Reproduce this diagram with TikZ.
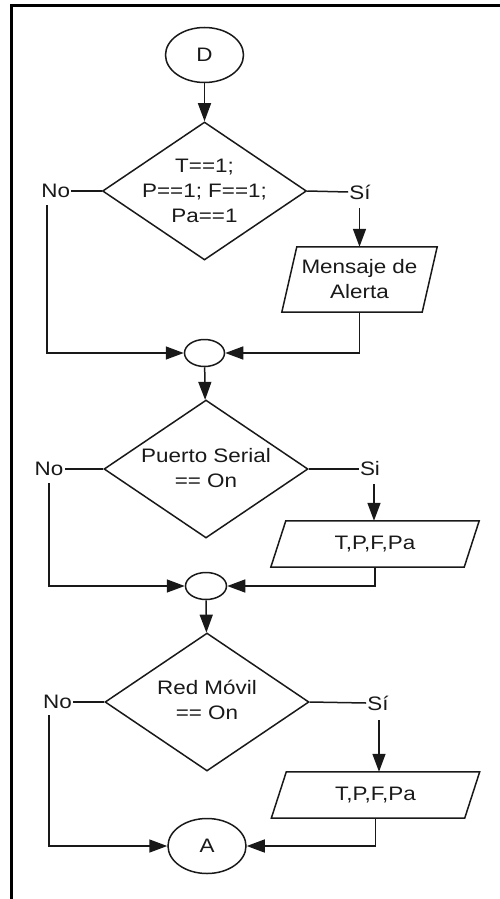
\documentclass[tikz,border=0pt]{standalone}
\usepackage{fontspec}
\setmainfont[FakeStretch=1.15]{Liberation Sans}
\usetikzlibrary{shapes.geometric,arrows.meta}
\begin{document}
\begin{tikzpicture}[x=1pt,y=-1pt,
  every node/.style={font=\fontsize{19.5}{25}\selectfont, text=black!90},
  ln/.style={line width=1.5pt, draw=black!90},
  arr/.style={ln, -{Triangle[length=18pt,width=13pt]}},
  oval/.style={ellipse, draw=black!90, line width=1.5pt, inner sep=0pt},
  dia/.style={diamond, draw=black!90, line width=1.5pt, minimum width=204pt, minimum height=138pt, inner sep=0pt},
  lbl/.style={inner sep=1pt},
  io/.style={rectangle, inner sep=0pt, align=center}
]
\useasboundingbox (0,0) rectangle (500,899);
\draw[line width=3.4pt] (11.3,899) -- (11.3,5.7) -- (500,5.7);

% block 1
\node[oval, minimum width=78pt, minimum height=55pt] (d) at (204.5,55) {D};
\node[dia] (q1) at (204.5,191) {};
\node[align=center] (q1t) at (204.5,191) {T==1;\\P==1; F==1;\\Pa==1};
\node[lbl] (no1) at (55.8,191) {No};
\node[lbl] (si1) at (360,192) {Sí};
\node[io, minimum width=140pt, minimum height=65pt] (p1) at (359.5,279.5) {Mensaje de\\Alerta};
\draw[ln] ([xshift=7.5pt]p1.north west) -- ([xshift=7.5pt]p1.north east) -- ([xshift=-7.5pt]p1.south east) -- ([xshift=-7.5pt]p1.south west) -- cycle;
\node[oval, minimum width=40pt, minimum height=27pt] (j1) at (204.5,353) {};

% block 2
\node[dia] (q2) at (206,469) {};
\node[align=center] (q2t) at (206,468) {Puerto Serial\\== On};
\node[lbl] (no2) at (49,469) {No};
\node[lbl] (si2) at (370,469) {Si};
\node[io, minimum width=193pt, minimum height=46pt] (p2) at (375,544) {T,P,F,Pa};
\draw[ln] ([xshift=7.5pt]p2.north west) -- ([xshift=7.5pt]p2.north east) -- ([xshift=-7.5pt]p2.south east) -- ([xshift=-7.5pt]p2.south west) -- cycle;
\node[oval, minimum width=41pt, minimum height=27pt] (j2) at (206,586) {};

% block 3
\node[dia] (q3) at (207,702) {};
\node[align=center] (q3t) at (207,700) {Red Móvil\\== On};
\node[lbl] (no3) at (57.5,702) {No};
\node[lbl] (si3) at (378,703) {Sí};
\node[io, minimum width=193pt, minimum height=46pt] (p3) at (375.5,795) {T,P,F,Pa};
\draw[ln] ([xshift=7.5pt]p3.north west) -- ([xshift=7.5pt]p3.north east) -- ([xshift=-7.5pt]p3.south east) -- ([xshift=-7.5pt]p3.south west) -- cycle;
\node[oval, minimum width=78pt, minimum height=55pt] (a) at (207,846) {A};

% connectors
\coordinate (n1) at (47,205);
\coordinate (s1) at (359.5,208);
\coordinate (n2) at (49,483);
\coordinate (s2) at (374,484);
\coordinate (n3) at (49,715);
\coordinate (s3) at (379,720);

\draw[arr] (d) -- (q1);
\draw[ln] (q1.west) -- (no1.east);
\draw[ln] (q1.east) -- (si1.west);
\draw[arr] (n1) |- (j1.west);
\draw[arr] (s1) -- (s1 |- p1.north);
\draw[arr] (p1.south) |- (j1.east);
\draw[arr] (j1) -- (q2);

\draw[ln] (q2.west) -- (no2.east);
\draw[ln] (q2.east) -- (si2.west);
\draw[arr] (n2) |- (j2.west);
\draw[arr] (s2) -- (s2 |- p2.north);
\draw[arr] (p2.south) |- (j2.east);
\draw[arr] (j2) -- (q3);

\draw[ln] (q3.west) -- (no3.east);
\draw[ln] (q3.east) -- (si3.west);
\draw[arr] (n3) |- (a.west);
\draw[arr] (s3) -- (s3 |- p3.north);
\draw[arr] (p3.south) |- (a.east);
\end{tikzpicture}
\end{document}
